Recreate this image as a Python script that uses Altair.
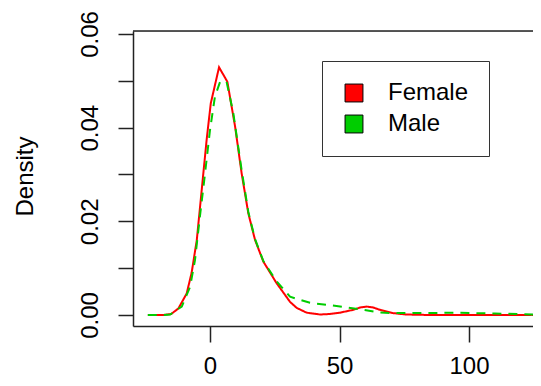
import altair as alt
import pandas as pd

# Kernel density curves
female_x = [-24, -18, -15, -12.2, -9.0, -7.1, -5.1, -3.2, -1.3, 0.3, 3.5, 6.7, 9.7, 12.2,
            14.8, 17.4, 20.6, 25.7, 30.9, 33.5, 37.3, 42.5, 46, 50.2, 55.3, 58, 60.5, 63,
            65.6, 70.7, 75.8, 85, 100, 115, 127.4]
female_y = [0, 0, 0.0002, 0.0014, 0.0046, 0.0090, 0.0160, 0.0267, 0.0374, 0.0452, 0.0529,
            0.0498, 0.0402, 0.0303, 0.0217, 0.0160, 0.0114, 0.0068, 0.0028, 0.0015, 0.0005,
            0.0001, 0.0002, 0.0005, 0.0011, 0.0016, 0.0018, 0.0016, 0.0011, 0.0004, 0.0001,
            0, 0, 0, 0]

male_x = [-24, -18, -15.4, -10.9, -7.7, -5.8, -3.9, -1.9, 0, 1.9, 3.9, 6.4, 9.0, 12.2,
          14.8, 17.4, 20.6, 25.7, 30.9, 38.6, 46.3, 52.8, 59.2, 64.4, 70.7, 80, 95, 110, 127.4]
male_y = [0, 0, 0.0001, 0.0018, 0.0060, 0.0117, 0.0210, 0.0303, 0.0395, 0.0466, 0.0498,
          0.0498, 0.0431, 0.0310, 0.0220, 0.0162, 0.0115, 0.0072, 0.0039, 0.0026, 0.0021,
          0.0016, 0.0011, 0.0006, 0.0004, 0.0004, 0.0005, 0.0003, 0.0001]

sexes = ["Female", "Male"]
colors = ["#FF0000", "#00CD00"]
dashes = [[1, 0], [9, 7]]
x_ticks = [0, 50, 100]
y_ticks = [0, 0.01, 0.02, 0.03, 0.04, 0.05, 0.06]

rows = [{"sex": "Female", "value": x, "density": y} for x, y in zip(female_x, female_y)]
rows += [{"sex": "Male", "value": x, "density": y} for x, y in zip(male_x, male_y)]
df = pd.DataFrame(rows)

W, H = 400, 295
FONT = "Liberation Sans"

x_scale = alt.Scale(domain=[-29.73, 124.71], nice=False, zero=False)
y_scale = alt.Scale(domain=[-0.00235, 0.06064], nice=False, zero=False)

x_axis = alt.Axis(values=x_ticks, title=None, grid=False, tickSize=16, tickColor="#222",
                  tickWidth=1.5, domainColor="#222", domainWidth=1.5, labelFontSize=24,
                  labelFont=FONT, labelColor="black", labelPadding=31,
                  labelBaseline="alphabetic", labelFlush=False, labelOverlap=False)
y_axis = alt.Axis(values=y_ticks, title="Density", grid=False, tickSize=15, tickColor="#222",
                  tickWidth=1.5, domainColor="#222", domainWidth=1.5, labelFontSize=24,
                  labelFont=FONT, labelColor="black", labelAngle=270, labelAlign="center",
                  labelBaseline="alphabetic", labelPadding=21, labelFlush=False,
                  labelOverlap=False,
                  labelExpr="round(datum.value * 100) % 2 == 0 ? format(datum.value, '.2f') : ''",
                  titleFontSize=24, titleFont=FONT, titleFontWeight="normal",
                  titleColor="black", titleAngle=270, titleAlign="center",
                  titleBaseline="alphabetic", titleX=-101, titleY=145)

# line colours/dashes: data-derived domains (Female, Male) so that the
# disabled line legends are not merged with the square-key legend below
lines = alt.Chart(df).mark_line(strokeWidth=2, clip=True).encode(
    x=alt.X("value:Q", scale=x_scale, axis=x_axis),
    y=alt.Y("density:Q", scale=y_scale, axis=y_axis),
    stroke=alt.Stroke("sex:N", scale=alt.Scale(range=colors), legend=None),
    strokeDash=alt.StrokeDash("sex:N", scale=alt.Scale(range=dashes), legend=None),
)

# Square legend keys (the points themselves are pushed off-scale and clipped away)
legend_layer = alt.Chart(df).transform_calculate(
    hidden_x="datum.value + 1000"
).mark_point(shape="square", filled=True, stroke="black", strokeWidth=1, opacity=1,
             clip=True).encode(
    x=alt.X("hidden_x:Q", scale=x_scale, axis=x_axis),
    y=alt.Y("density:Q", scale=y_scale, axis=y_axis),
    fill=alt.Fill("sex:N", scale=alt.Scale(domain=sexes, range=colors),
                  legend=alt.Legend(title=None, orient="none", legendX=189, legendY=30,
                                    direction="vertical", symbolType="square",
                                    symbolSize=320, symbolStrokeColor="black",
                                    symbolStrokeWidth=1, labelFontSize=24, labelFont=FONT,
                                    labelColor="black", padding=20, rowPadding=7,
                                    labelOffset=22, strokeColor="#333", fillColor="white")),
)

top_border = alt.Chart(pd.DataFrame({"a": [0]})).mark_rule(
    color="#222", strokeWidth=1.5
).encode(x=alt.value(0), x2=alt.value(W), y=alt.value(0))

chart = alt.layer(lines, legend_layer, top_border).properties(
    width=W, height=H,
    autosize=alt.AutoSizeParams(type="none"),
    padding={"left": 125, "top": 23, "right": 0, "bottom": 52},
).configure_view(stroke=None).configure(background="white")

chart.save("out.html", embed_options={"renderer": "svg", "actions": False})
